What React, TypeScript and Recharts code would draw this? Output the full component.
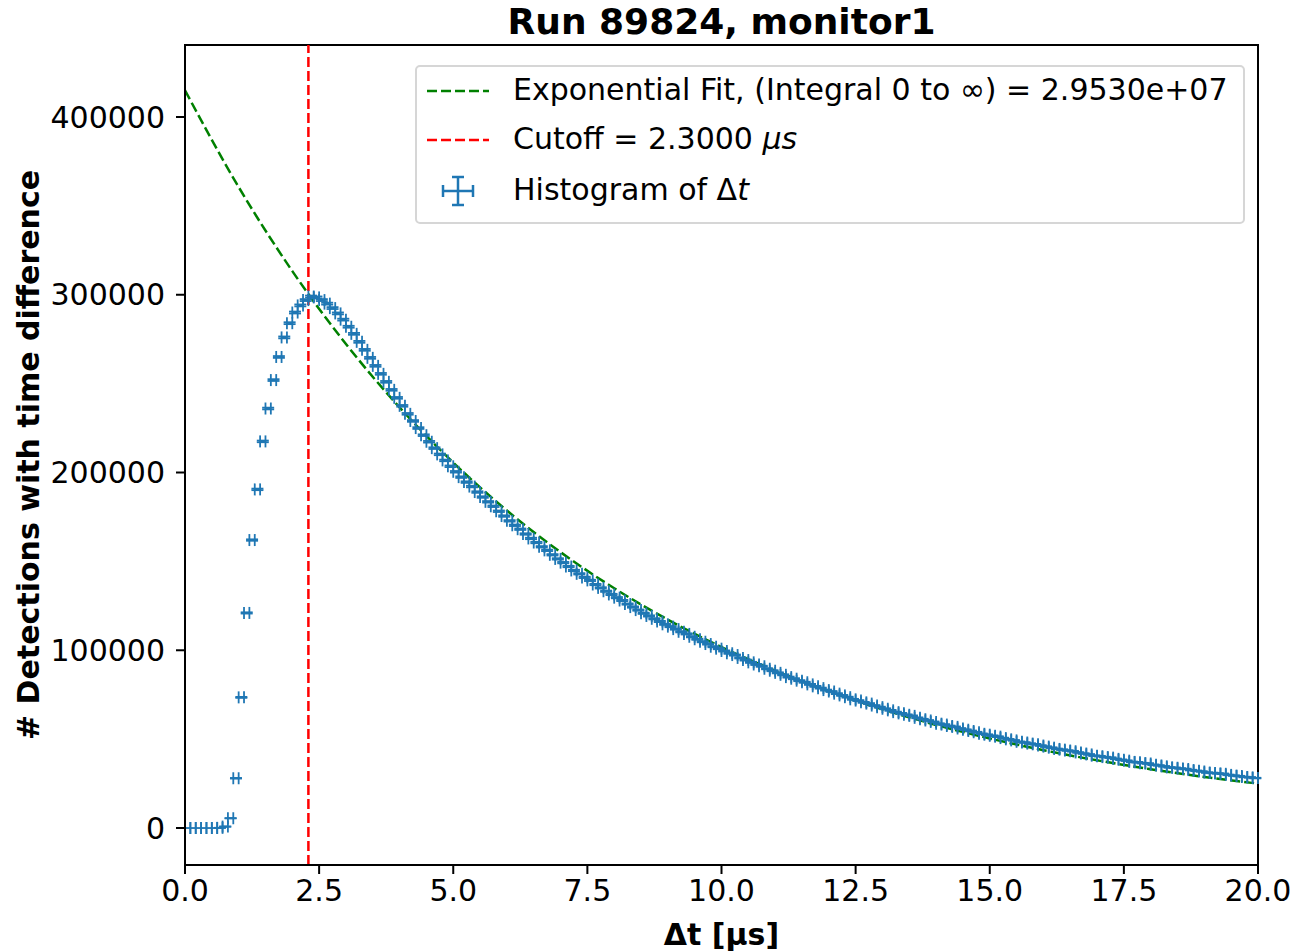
import React from "react";
import {
  ComposedChart,
  Line,
  Scatter,
  ErrorBar,
  XAxis,
  YAxis,
  ReferenceLine,
  ReferenceArea,
  Label,
} from "recharts";

// histogram bins: 0.1 µs wide, 0 to 20 µs
const BIN_WIDTH = 0.1;
const counts = [
  0, 0, 0, 0, 0, 0, 100, 800, 5500, 28000,
  73500, 121000, 162000, 190500, 217500, 236000, 252000, 265000, 276000, 284000,
  290000, 294000, 297000, 299000, 298500, 297000, 295000, 292500, 289500, 286000,
  282000, 278000, 273500, 269000, 264500, 260000, 255500, 251000, 246500, 242000,
  237500, 233000, 229000, 225000, 221000, 217300, 213700, 210200, 206800, 203500,
  200400, 197400, 194600, 192100, 189000, 186200, 183500, 181000, 178200, 175500,
  172800, 170300, 168100, 165400, 162900, 160600, 158200, 156200, 153700, 151400,
  149300, 147100, 144900, 143000, 141000, 139300, 137000, 135100, 133200, 131400,
  129600, 128000, 126000, 124300, 122600, 120800, 119300, 117700, 116200, 114600,
  113300, 111900, 110400, 109200, 107600, 106200, 104800, 103500, 102000, 100900,
  99600, 98300, 97300, 95700, 94500, 93200, 92000, 91000, 89600, 88500,
  87300, 86200, 84900, 84000, 82900, 82000, 80800, 79700, 78700, 77600,
  76800, 75600, 74600, 73600, 72400, 71700, 70700, 70000, 68900, 68000,
  67100, 66200, 65200, 64500, 63700, 63100, 62000, 61200, 60500, 59700,
  58700, 58200, 57400, 56900, 56000, 55300, 54600, 53900, 53000, 52500,
  51900, 51400, 50600, 49900, 49300, 48500, 48100, 47500, 47100, 46400,
  45800, 45200, 44500, 44100, 43600, 43200, 42500, 41900, 41400, 40700,
  40400, 39900, 39600, 38900, 38400, 37900, 37200, 37000, 36500, 36300,
  35600, 35200, 34700, 34100, 33900, 33500, 33200, 32600, 32200, 31800,
  31200, 31000, 30700, 30500, 29900, 29500, 29200, 28700, 28500, 28100,
];

// exponential fit read at whole microseconds
const fitT = [0, 1, 2, 3, 4, 5, 6, 7, 8, 9, 10, 11, 12, 13, 14, 15, 16, 17, 18, 19, 20];
const fitY = [
  415000, 360600, 313300, 272300, 236600, 205600, 178600, 155200, 134900, 117200,
  101800, 88500, 76900, 66800, 58000, 50400, 43800, 38100, 33100, 28700, 25000,
];

const CUTOFF = 2.3;
const xTicks = [0, 2.5, 5, 7.5, 10, 12.5, 15, 17.5, 20];
const yTicks = [0, 100000, 200000, 300000, 400000];
const Y_MIN = -20800;
const Y_MAX = 440500;

const BLUE = "#1f77b4";
const GREEN = "#008000";
const RED = "#ff0000";
const FONT = "DejaVu Sans, sans-serif";

const histData = counts.map((c, i) => ({
  t: +(BIN_WIDTH * (i + 0.5)).toFixed(2),
  count: c,
  xerr: BIN_WIDTH / 2,
  yerr: Math.sqrt(c),
}));
const fitData = fitT.map((t, i) => ({ t, fit: fitY[i] }));

const tickStyle = { fontSize: 30, fontFamily: FONT, fill: "#000" };

const YLabel = ({ viewBox }: any) => {
  const cy = viewBox.y + viewBox.height / 2;
  return (
    <text
      x={28}
      y={cy}
      transform={`rotate(-90, 28, ${cy})`}
      textAnchor="middle"
      dominantBaseline="central"
      style={{ fontSize: 30, fontWeight: "bold", fontFamily: FONT, fill: "#000" }}
    >
      # Detections with time difference
    </text>
  );
};

function LegendBox() {
  return (
    <div
      style={{
        position: "absolute",
        left: 415,
        top: 65,
        width: 826,
        height: 155,
        background: "rgba(255,255,255,0.8)",
        border: "2px solid #d6d6d6",
        borderRadius: 5,
        fontFamily: FONT,
        fontSize: 30,
        color: "#000",
      }}
    >
      <svg width={90} height={155} style={{ position: "absolute", left: 0, top: 0 }}>
        <line x1={10} x2={72} y1={24} y2={24} stroke={GREEN} strokeWidth={2.5} strokeDasharray="10 4" />
        <line x1={10} x2={72} y1={73} y2={73} stroke={RED} strokeWidth={2.5} strokeDasharray="10 4" />
        <line x1={26} x2={56} y1={124} y2={124} stroke={BLUE} strokeWidth={2.5} />
        <line x1={41} x2={41} y1={110} y2={138} stroke={BLUE} strokeWidth={2.5} />
        <line x1={26} x2={26} y1={118} y2={130} stroke={BLUE} strokeWidth={2.5} />
        <line x1={56} x2={56} y1={118} y2={130} stroke={BLUE} strokeWidth={2.5} />
        <line x1={35} x2={47} y1={110} y2={110} stroke={BLUE} strokeWidth={2.5} />
        <line x1={35} x2={47} y1={138} y2={138} stroke={BLUE} strokeWidth={2.5} />
      </svg>
      <div style={{ position: "absolute", left: 96, top: 5, whiteSpace: "nowrap" }}>
        Exponential Fit, (Integral 0 to ∞) = 2.9530e+07
      </div>
      <div style={{ position: "absolute", left: 96, top: 54, whiteSpace: "nowrap" }}>
        Cutoff = 2.3000 <i>μs</i>
      </div>
      <div style={{ position: "absolute", left: 96, top: 105, whiteSpace: "nowrap" }}>
        Histogram of Δ<i>t</i>
      </div>
    </div>
  );
}

export default function App() {
  return (
    <div
      style={{
        position: "absolute",
        left: 0,
        top: 0,
        width: 1296,
        height: 951,
        background: "#fff",
        fontFamily: FONT,
      }}
    >
      <div
        style={{
          position: "absolute",
          left: 185,
          width: 1073,
          top: 0,
          textAlign: "center",
          fontSize: 36,
          fontWeight: "bold",
          lineHeight: "44px",
        }}
      >
        Run 89824, monitor1
      </div>

      <ComposedChart width={1296} height={951} margin={{ top: 45, right: 38, left: 0, bottom: 0 }}>
        <XAxis
          dataKey="t"
          type="number"
          domain={[0, 20]}
          ticks={xTicks}
          tickFormatter={(v) => v.toFixed(1)}
          tick={tickStyle}
          tickSize={9}
          tickMargin={6}
          stroke="#000"
          strokeWidth={2}
          height={86}
          allowDataOverflow
        >
          <Label
            value="Δt [μs]"
            position="insideBottom"
            offset={6}
            style={{ fontSize: 30, fontWeight: "bold", fontFamily: FONT, fill: "#000" }}
          />
        </XAxis>
        <YAxis
          type="number"
          domain={[Y_MIN, Y_MAX]}
          ticks={yTicks}
          tick={tickStyle}
          tickSize={9}
          tickMargin={11}
          stroke="#000"
          strokeWidth={2}
          width={185}
          allowDataOverflow
          label={<YLabel />}
        />

        <ReferenceArea x1={0} x2={20} y1={Y_MIN} y2={Y_MAX} fill="none" stroke="#000" strokeWidth={2} />

        <Line
          data={fitData}
          dataKey="fit"
          type="monotone"
          stroke={GREEN}
          strokeWidth={2.5}
          strokeDasharray="10 4"
          dot={false}
          activeDot={false}
          isAnimationActive={false}
        />

        <ReferenceLine x={CUTOFF} stroke={RED} strokeWidth={2.5} strokeDasharray="10 4" />

        <Scatter data={histData} dataKey="count" shape={() => <g />} isAnimationActive={false}>
          <ErrorBar dataKey="xerr" direction="x" width={6} stroke={BLUE} strokeWidth={1.8} isAnimationActive={false} />
          <ErrorBar dataKey="yerr" direction="y" width={6} stroke={BLUE} strokeWidth={1.8} isAnimationActive={false} />
        </Scatter>
      </ComposedChart>

      <LegendBox />
    </div>
  );
}
